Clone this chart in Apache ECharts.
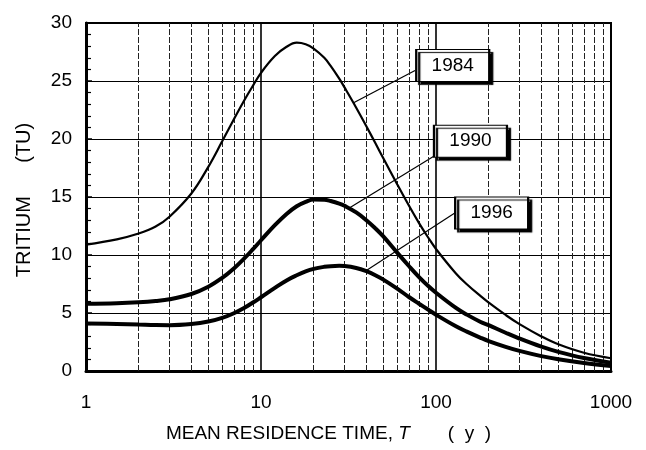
<!DOCTYPE html>
<html><head><meta charset="utf-8">
<script src="https://cdn.jsdelivr.net/npm/echarts@6/dist/echarts.min.js"></script>
<style>html,body{margin:0;padding:0;background:#fff}#c{width:646px;height:450px}</style>
</head><body><div id="c"></div>
<script>
// Mean residence time T (years)
const residenceTime = [1,1.5,2,2.5,3,4,5,6,7,8,9,10,12,14,16,18,20,23,25,28,30,35,40,45,50,60,70,80,90,100,130,150,180,200,250,300,400,500,700,1000];
// Tritium (TU)
const tritium1984 = [10.9,11.35,11.85,12.45,13.3,15.3,17.6,19.8,21.7,23.3,24.6,25.7,27.15,27.95,28.3,28.17,27.8,27.0,26.3,25.2,24.45,22.7,21.1,19.65,18.34,16.1,14.26,12.75,11.53,10.52,8.41,7.48,6.45,5.9,4.83,4.04,2.98,2.3,1.57,1.1];
const tritium1990 = [5.8,5.84,5.92,6.03,6.18,6.64,7.27,8.02,8.84,9.68,10.5,11.27,12.57,13.54,14.2,14.58,14.78,14.76,14.65,14.43,14.24,13.67,13.0,12.3,11.6,10.2,9.05,8.1,7.35,6.75,5.44,4.86,4.23,3.95,3.3,2.8,2.1,1.65,1.12,0.72];
const tritium1996 = [4.1,4.05,4.0,3.96,3.95,4.05,4.26,4.58,4.98,5.43,5.9,6.36,7.17,7.81,8.25,8.58,8.8,8.98,9.04,9.07,9.05,8.88,8.6,8.26,7.88,7.1,6.38,5.8,5.3,4.85,3.85,3.39,2.86,2.58,2.08,1.73,1.28,1.01,0.69,0.43];
const seriesNames = ['1984','1990','1996'];
// label box anchor (T, TU) and leader line ends [curve point, box point]
const labelBoxes = [[124.6,26.34],[157.4,19.81],[208,13.62]];
const leaderLines = [
  [[33.6,23.1],[75.9,25.9]],
  [[32.3,14.1],[96.6,18.5]],
  [[39.4,8.6],[128.7,13.65]]
];
const xTicks = [1,10,100,1000];
const minorGrid = [2,3,4,5,6,7,8,9,20,30,40,50,60,70,80,90,200,300,400,500,600,700,800,900];
const yMin = 0, yMax = 30, yStep = 5;

const FONT = "'Liberation Sans', Arial, sans-serif";
const chart = echarts.init(document.getElementById('c'), null, {renderer:'canvas'});
const allVals = [tritium1984, tritium1990, tritium1996];
const widths = [2.2, 4, 4];

const series = allVals.map((vals, i) => ({
  name: seriesNames[i],
  type: 'line',
  data: residenceTime.map((t, k) => [t, vals[k]]),
  showSymbol: false,
  smooth: 0.4,
  z: 5,
  lineStyle: {color:'#000', width: widths[i]},
  markLine: {
    silent: true, symbol: 'none', animation: false,
    label: {show:false},
    lineStyle: {color:'#000', width:1.2, type:'solid'},
    data: [[{coord: leaderLines[i][0]}, {coord: leaderLines[i][1]}]]
  },
  markPoint: {
    silent: true, animation: false,
    symbol: 'rect', symbolSize: [73, 32],
    itemStyle: {color:'#fff', borderColor:'#000', borderWidth:1.5, shadowColor:'#000', shadowBlur:1, shadowOffsetX:3, shadowOffsetY:3},
    label: {show:true, position:'inside', color:'#000', fontSize:19, fontFamily:FONT, formatter: seriesNames[i]},
    data: [{coord: labelBoxes[i]}]
  }
}));

// minor vertical grid lines drawn through the log axis
series.push({
  type: 'line', data: [], z: 2,
  markLine: {
    silent: true, symbol: 'none', animation: false,
    label: {show:false},
    lineStyle: {color:'#222', width:1, type:[6,2]},
    data: minorGrid.map(v => ({xAxis: v}))
  }
});

chart.setOption({
  animation: false,
  backgroundColor: '#fff',
  grid: {left:86, right:35, top:23, bottom:79, show:true, borderColor:'#000', borderWidth:2},
  xAxis: {
    type: 'log', logBase: 10, min: xTicks[0], max: xTicks[xTicks.length-1],
    axisLine: {show:true, lineStyle:{color:'#000', width:3}},
    axisTick: {show:false},
    splitLine: {show:true, lineStyle:{color:'#000', width:1.6}},
    axisLabel: {color:'#000', fontSize:19, fontFamily:FONT, margin:22, formatter: v => String(Math.round(v))},
    name: 'MEAN RESIDENCE TIME, {i|T}{g|}(  y  )',
    nameLocation: 'middle', nameGap: 53,
    nameTextStyle: {color:'#000', fontSize:19, fontFamily:FONT, padding:[0,40,0,0],
      rich: {
        i:{fontStyle:'italic', fontSize:19, fontFamily:FONT, color:'#000'},
        g:{width:38}
      }}
  },
  yAxis: {
    type: 'value', min: yMin, max: yMax, interval: yStep,
    axisLine: {show:true, lineStyle:{color:'#000', width:3}},
    axisTick: {show:true, inside:true, length:6, lineStyle:{color:'#000', width:1.5}},
    minorTick: {show:true, splitNumber:5, length:5, lineStyle:{color:'#000', width:1.2}},
    splitLine: {show:true, lineStyle:{color:'#000', width:1}},
    axisLabel: {color:'#000', fontSize:19, fontFamily:FONT, margin:14},
    name: 'TRITIUM      (TU)',
    nameLocation: 'middle', nameGap: 52,
    nameTextStyle: {color:'#000', fontSize:20, fontFamily:FONT, padding:[0,6,0,0]}
  },
  series: series
});
</script>
</body></html>
